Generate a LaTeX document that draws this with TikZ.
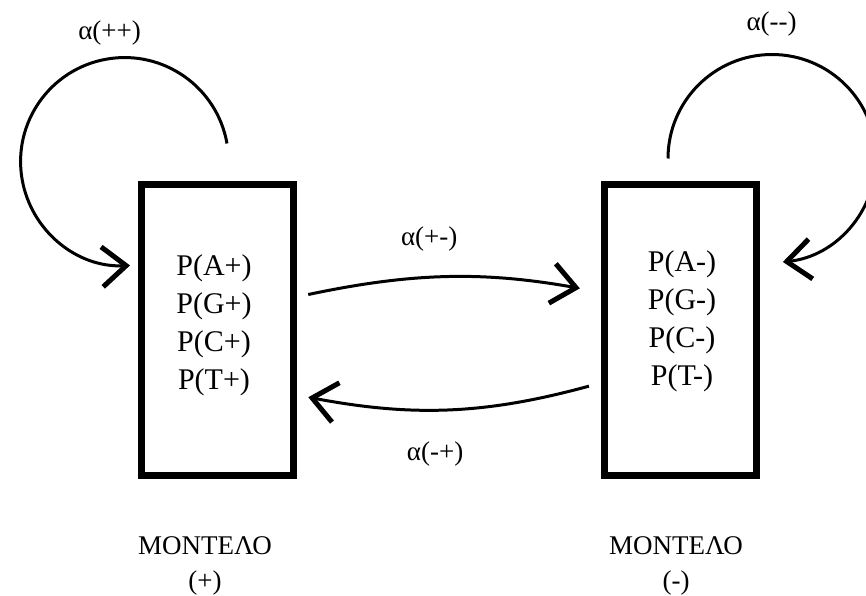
\documentclass[tikz,border=0pt]{standalone}
\usepackage{fontspec}
\setmainfont{Liberation Serif}
\usetikzlibrary{arrows.meta}

\begin{document}
\begin{tikzpicture}[x=1pt, y=1pt,
    model/.style = {draw, rectangle, line width=7pt, minimum width=152pt, minimum height=290pt},
    probs/.style = {align=center, font=\fontsize{30}{38}\selectfont},
    caption/.style = {align=center, font=\fontsize{27}{35}\selectfont},
    rate/.style = {font=\fontsize{27}{30}\selectfont},
    flow/.style = {line width=3pt, -{Straight Barb[length=24pt, width=40pt, line width=5pt]}}]
                    \useasboundingbox (0,0) rectangle (866,595);
                    \node[model] (plus) at (217,265) {};
                    \node[model] (minus) [node distance=463pt, right of=plus] {};
                    \node[probs] (plusp) at ([xshift=-3pt, yshift=5pt]plus.center) {P(A+)\\P(G+)\\P(C+)\\P(T+)};
                    \node[probs] (minusp) at ([xshift=2pt, yshift=9pt]minus.center) {P(A-)\\P(G-)\\P(C-)\\P(T-)};
                    \node[caption] (plusname) [node distance=236pt, below of=plus, xshift=-12pt] {ΜΟΝΤΕΛΟ\\(+)};
                    \node[caption] (minusname) [node distance=236pt, below of=minus, xshift=-4pt] {ΜΟΝΤΕΛΟ\\(-)};
                    \coordinate (ppstart) at ([xshift=10pt, yshift=38pt]plus.north);
                    \coordinate (mmstart) at ([xshift=-12pt, yshift=23pt]minus.north);
                    \draw[flow] (ppstart) arc[start angle=10, end angle=273, radius=104] node[rate, pos=0.3, above=7pt, xshift=-17pt] {α(++)};
                    \draw[flow] (mmstart) arc[start angle=180, end angle=-84, radius=104] node[rate, pos=0.34, above=13pt] {α(-{}-)};
                    \path[flow] ([yshift=33pt]plus.east) edge[bend left=11, shorten <=12pt, shorten >=21pt] node[rate, above=21pt, xshift=-19pt] {α(+-)} ([yshift=38pt]minus.west);
                    \path[flow] ([yshift=-53pt]minus.west) edge[bend left=13, shorten <=12pt, shorten >=12pt] node[rate, pos=0.55, below=28pt] {α(-+)} ([yshift=-65pt]plus.east);
                \end{tikzpicture}
\end{document}
